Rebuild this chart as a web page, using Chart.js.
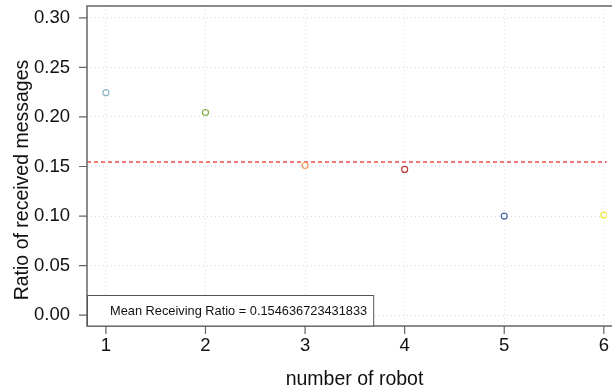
<!DOCTYPE html>
<html>
<head>
<meta charset="utf-8">
<script src="https://cdn.jsdelivr.net/npm/chart.js@4/dist/chart.umd.min.js"></script>
<style>
  html, body { margin: 0; padding: 0; background: #fff; }
  #wrap { width: 612px; height: 391px; }
</style>
</head>
<body>
<div id="wrap"><canvas id="ratio-chart" width="612" height="391"></canvas></div>
<script>
const robots = [1, 2, 3, 4, 5, 6];
const receivedRatio = [0.2245, 0.2045, 0.151, 0.147, 0.1, 0.101];
const robotColors = ['#8fb9c6', '#7cb342', '#f59a5c', '#c0393b', '#4a68ad', '#ede83a'];
const meanRatio = 0.154636723431833;
const xTicks = [1, 2, 3, 4, 5, 6];
const yTicks = [0, 0.05, 0.1, 0.15, 0.2, 0.25, 0.3];
const xTitle = 'number of robot';
const yTitle = 'Ratio of received messages';

const FONT = "'Liberation Sans', Arial, Helvetica, sans-serif";

// frame, tick marks, axis titles, mean line and the legend box
const decorations = {
  id: 'decorations',
  beforeDatasetsDraw(chart) {
    const { ctx, chartArea: a, scales } = chart;
    const yMean = scales.y.getPixelForValue(meanRatio);
    ctx.save();
    ctx.strokeStyle = 'rgba(240, 96, 96, 0.85)';
    ctx.lineWidth = 2;
    ctx.setLineDash([4, 3]);
    ctx.beginPath();
    ctx.moveTo(a.left, yMean);
    ctx.lineTo(a.right, yMean);
    ctx.stroke();
    ctx.restore();
  },
  afterDatasetsDraw(chart) {
    const { ctx, chartArea: a, scales } = chart;
    ctx.save();
    ctx.strokeStyle = '#666';
    ctx.lineWidth = 1.5;
    ctx.beginPath();
    ctx.moveTo(chart.width, a.top);
    ctx.lineTo(a.left, a.top);
    ctx.lineTo(a.left, a.bottom);
    ctx.lineTo(chart.width, a.bottom);
    ctx.stroke();

    ctx.lineWidth = 1.2;
    ctx.beginPath();
    yTicks.forEach(v => {
      const y = scales.y.getPixelForValue(v);
      ctx.moveTo(a.left - 8, y);
      ctx.lineTo(a.left, y);
    });
    xTicks.forEach(v => {
      const x = scales.x.getPixelForValue(v);
      ctx.moveTo(x, a.bottom);
      ctx.lineTo(x, a.bottom + 8);
    });
    ctx.stroke();

    // axis titles
    ctx.fillStyle = '#111';
    ctx.font = '19.5px ' + FONT;
    ctx.textAlign = 'center';
    ctx.textBaseline = 'alphabetic';
    ctx.fillText(xTitle, (a.left + chart.width) / 2 + 5, 385);
    ctx.save();
    ctx.translate(28, (a.top + a.bottom) / 2 + 14);
    ctx.rotate(-Math.PI / 2);
    ctx.fillText(yTitle, 0, 0);
    ctx.restore();

    // legend
    const label = 'Mean Receiving Ratio = ' + meanRatio;
    ctx.font = '12.8px ' + FONT;
    ctx.textAlign = 'left';
    const w = ctx.measureText(label).width;
    const boxW = w + 29;
    const boxH = 31;
    ctx.fillStyle = '#fff';
    ctx.fillRect(a.left, a.bottom - boxH, boxW, boxH);
    ctx.strokeStyle = '#555';
    ctx.lineWidth = 1;
    ctx.strokeRect(a.left + 0.5, a.bottom - boxH + 0.5, boxW, boxH - 0.5);
    ctx.fillStyle = '#111';
    ctx.textBaseline = 'middle';
    ctx.fillText(label, a.left + 23, a.bottom - boxH / 2 + 1);
    ctx.restore();
  }
};

new Chart(document.getElementById('ratio-chart'), {
  type: 'scatter',
  data: {
    datasets: [
      {
        data: robots.map((r, i) => ({ x: r, y: receivedRatio[i] })),
        pointStyle: 'circle',
        pointRadius: 3,
        pointBorderWidth: 1.2,
        pointBackgroundColor: 'rgba(0,0,0,0)',
        pointBorderColor: robotColors,
      },
    ],
  },
  options: {
    responsive: false,
    animation: false,
    events: [],
    layout: { padding: { top: 6, left: 0, right: 0, bottom: 0 } },
    plugins: {
      legend: { display: false },
      tooltip: { enabled: false },
    },
    scales: {
      x: {
        type: 'linear',
        min: 0.81,
        max: 6.03,
        afterBuildTicks: s => { s.ticks = xTicks.map(v => ({ value: v })); },
        afterFit: s => {
          s.height = 65;
          s.paddingLeft = 0;
          s.paddingRight = 0;
        },
        grid: { color: '#dedede', drawTicks: false },
        border: { display: false, dash: [1, 3] },
        ticks: { color: '#111', padding: 9, font: { family: FONT, size: 18.5 } },
      },
      y: {
        min: -0.011,
        max: 0.312,
        afterBuildTicks: s => { s.ticks = yTicks.map(v => ({ value: v })); },
        afterFit: s => {
          s.width = 87;
          s.paddingTop = 0;
          s.paddingBottom = 0;
        },
        grid: { color: '#dedede', drawTicks: false },
        border: { display: false, dash: [1, 3] },
        ticks: {
          color: '#111',
          padding: 17,
          font: { family: FONT, size: 18.5 },
          callback: v => v.toFixed(2),
        },
      },
    },
  },
  plugins: [decorations],
});
</script>
</body>
</html>
